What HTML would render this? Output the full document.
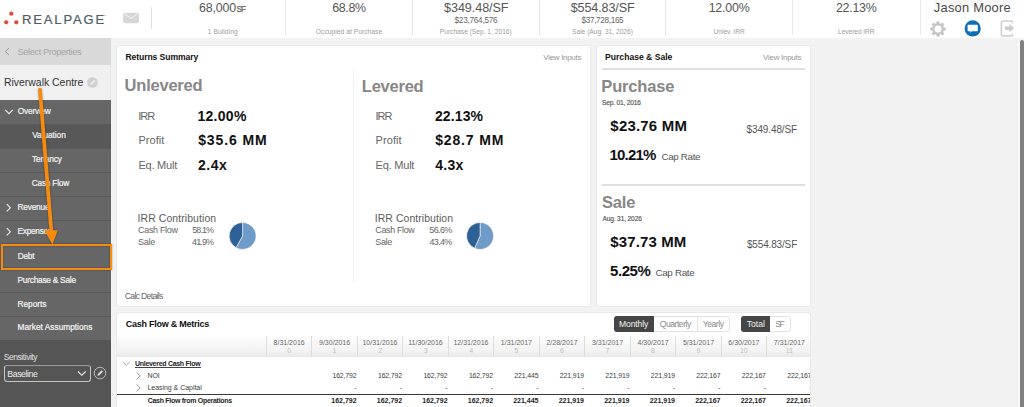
<!DOCTYPE html><html><head><meta charset="utf-8"><style>
html,body{margin:0;padding:0;width:1024px;height:407px;overflow:hidden;background:#f2f2f2;}
body{position:relative;font-family:"Liberation Sans",sans-serif;}
div,span,svg{position:absolute;}
span{white-space:nowrap;line-height:1;}
</style></head><body>
<div style="left:0px;top:0px;width:1024px;height:38px;background:#ffffff;"></div>
<svg style="left:0;top:0" width="30" height="38" viewBox="0 0 30 38"><g fill="#e4493b"><circle cx="11.3" cy="13.7" r="2.15"/><circle cx="6.2" cy="22.3" r="2.15"/><circle cx="16.3" cy="22.3" r="2.15"/></g></svg>
<div style="left:103.6px;top:14.6px;width:2.4px;height:0.8px;background:#c8cbcd;"></div>
<span style="left:21.96px;top:13.00px;font-size:13px;color:#4e5d66;letter-spacing:1.866px;-webkit-text-stroke:0.22px #4e5d66;">REALPAGE</span>
<svg style="left:0;top:0" width="160" height="38" viewBox="0 0 160 38"><rect x="123.2" y="12.7" width="15.8" height="10.6" rx="1.8" fill="#d6d6d6"/><path d="M124.4 13.6 L131.1 18.4 L137.8 13.6" stroke="#f6f6f6" stroke-width="1" fill="none"/></svg>
<div style="left:151px;top:7.3px;width:1px;height:21.7px;background:#e0e0e0;"></div>
<div style="left:285.0px;top:0px;width:1.0px;height:35px;background:#e8e8e8;"></div>
<div style="left:412.2px;top:0px;width:1.0px;height:35px;background:#e8e8e8;"></div>
<div style="left:539.0px;top:0px;width:1.0px;height:35px;background:#e8e8e8;"></div>
<div style="left:665.0px;top:0px;width:1.0px;height:35px;background:#e8e8e8;"></div>
<div style="left:792.0px;top:0px;width:1.0px;height:35px;background:#e8e8e8;"></div>
<div style="left:920.0px;top:0px;width:1.0px;height:35px;background:#e8e8e8;"></div>
<span style="left:199.08px;top:2.00px;font-size:12.4px;color:#555;letter-spacing:-0.158px;">68,000</span>
<span style="left:236.43px;top:5.00px;font-size:8.3px;color:#666;letter-spacing:-0.918px;-webkit-text-stroke:0.25px #666;">SF</span>
<span style="left:207.80px;top:29.00px;font-size:6.7px;color:#9d9d9d;letter-spacing:0.055px;">1 Building</span>
<span style="left:332.18px;top:2.00px;font-size:12.4px;color:#555;letter-spacing:-0.300px;">68.8%</span>
<span style="left:315.80px;top:29.00px;font-size:6.7px;color:#9d9d9d;letter-spacing:0.028px;">Occupied at Purchase</span>
<span style="left:444.07px;top:2.00px;font-size:12.6px;color:#555;letter-spacing:-0.075px;">$349.48/SF</span>
<span style="left:454.52px;top:17.00px;font-size:8.2px;color:#666;letter-spacing:-0.248px;">$23,764,576</span>
<span style="left:439.76px;top:29.00px;font-size:6.7px;color:#9d9d9d;letter-spacing:-0.022px;">Purchase (Sep. 1, 2016)</span>
<span style="left:570.67px;top:2.00px;font-size:12.6px;color:#555;letter-spacing:-0.131px;">$554.83/SF</span>
<span style="left:581.52px;top:17.00px;font-size:8.2px;color:#666;letter-spacing:-0.338px;">$37,728,165</span>
<span style="left:572.00px;top:29.00px;font-size:6.7px;color:#9d9d9d;letter-spacing:-0.019px;">Sale (Aug. 31, 2026)</span>
<span style="left:708.67px;top:2.00px;font-size:12.4px;color:#555;letter-spacing:-0.187px;">12.00%</span>
<span style="left:713.60px;top:29.00px;font-size:6.7px;color:#9d9d9d;letter-spacing:-0.080px;">Unlev. IRR</span>
<span style="left:835.98px;top:2.00px;font-size:12.4px;color:#555;letter-spacing:-0.249px;">22.13%</span>
<span style="left:838.06px;top:29.00px;font-size:6.7px;color:#9d9d9d;letter-spacing:-0.098px;">Levered IRR</span>
<div style="left:934px;top:0px;width:76px;height:7px;background:#f6f6f6;"></div>
<span style="left:933.81px;top:2.00px;font-size:12.9px;color:#4a4a4a;letter-spacing:0.235px;">Jason Moore</span>
<svg style="left:929px;top:19.6px" width="18" height="18" viewBox="-9 -9 18 18"><g fill="#c6c6c6"><rect x="-1.5" y="-7.8" width="3" height="15.6" rx="0.8" transform="rotate(0)"/><rect x="-1.5" y="-7.8" width="3" height="15.6" rx="0.8" transform="rotate(45)"/><rect x="-1.5" y="-7.8" width="3" height="15.6" rx="0.8" transform="rotate(90)"/><rect x="-1.5" y="-7.8" width="3" height="15.6" rx="0.8" transform="rotate(135)"/><circle r="6.1"/></g><circle r="3.5" fill="#fff"/></svg>
<svg style="left:964px;top:20.2px" width="18" height="18" viewBox="0 0 18 18"><circle cx="8.7" cy="8.4" r="8.1" fill="#0e6db3"/>
<path d="M4.3 4.8 h8.8 a0.7 0.7 0 0 1 0.7 0.7 v5 a0.7 0.7 0 0 1 -0.7 0.7 h-5.2 l-1.6 1.6 v-1.6 h-2 a0.7 0.7 0 0 1 -0.7 -0.7 v-5 a0.7 0.7 0 0 1 0.7 -0.7z" fill="#fff"/></svg>
<svg style="left:1000px;top:20.4px" width="16" height="18" viewBox="0 0 16 18"><path d="M12.6 3.2 V2.6 a1.6 1.6 0 0 0 -1.6 -1.6 H3 a1.6 1.6 0 0 0 -1.6 1.6 V14.4 a1.6 1.6 0 0 0 1.6 1.6 H11 a1.6 1.6 0 0 0 1.6 -1.6 V13.8" stroke="#cdcdcd" stroke-width="1.5" fill="none"/>
<path d="M5 6.5 h4.4 v-2.7 l4.7 4.4 l-4.7 4.4 v-2.7 h-4.4z" fill="#cdcdcd"/></svg>
<div style="left:0px;top:38px;width:1024px;height:369px;background:#f2f2f2;"></div>
<div style="left:1018px;top:39px;width:2px;height:368px;background:#f6f6f6;"></div>
<div style="left:1020px;top:39.5px;width:4px;height:367.5px;background:#818181;border-radius:2px 2px 0 0"></div>
<div style="left:0px;top:38px;width:111px;height:27px;background:#d9d9d9;"></div>
<div style="left:0px;top:65px;width:111px;height:35px;background:#f0f0f0;"></div>
<div style="left:110px;top:65px;width:1px;height:35px;background:#e6e6e6;"></div>
<svg style="left:0;top:40px" width="14" height="20" viewBox="0 40 14 20"><path d="M9 48.1 L5.2 51.6 L9 55.1" stroke="#8c8c8c" stroke-width="0.9" fill="none"/></svg>
<span style="left:17.59px;top:48.00px;font-size:9.2px;color:#a4a4a4;letter-spacing:-0.376px;">Select Properties</span>
<span style="left:3.97px;top:78.00px;font-size:10.4px;color:#333;letter-spacing:0.020px;">Riverwalk Centre</span>
<svg style="left:86.9px;top:76.9px" width="11" height="11" viewBox="0 0 11 11"><circle cx="5.5" cy="5.5" r="5.3" fill="#d0d0d0"/><path d="M3.2 7.9 l0.4 -1.6 l3.5 -3.5 l1.2 1.2 l-3.5 3.5z" fill="#eeeeee"/></svg>
<div style="left:0px;top:100px;width:111px;height:240px;background:#666666;"></div>
<div style="left:0px;top:124px;width:111px;height:24px;background:#585858;"></div>
<div style="left:0px;top:124px;width:111px;height:1px;background:#5a5a5a;"></div>
<div style="left:0px;top:148px;width:111px;height:1px;background:#5a5a5a;"></div>
<div style="left:0px;top:172px;width:111px;height:1px;background:#5a5a5a;"></div>
<div style="left:0px;top:196px;width:111px;height:1px;background:#5a5a5a;"></div>
<div style="left:0px;top:220px;width:111px;height:1px;background:#5a5a5a;"></div>
<div style="left:0px;top:244px;width:111px;height:1px;background:#5a5a5a;"></div>
<div style="left:0px;top:268px;width:111px;height:1px;background:#5a5a5a;"></div>
<div style="left:0px;top:292px;width:111px;height:1px;background:#5a5a5a;"></div>
<div style="left:0px;top:316px;width:111px;height:1px;background:#5a5a5a;"></div>
<svg style="left:4px;top:108px" width="10" height="8" viewBox="0 0 10 8"><path d="M1.2 1.8 L5 5.6 L8.8 1.8" stroke="#eee" stroke-width="1.1" fill="none"/></svg>
<span style="left:17.83px;top:107.00px;font-size:8.3px;color:#f4f4f4;letter-spacing:-0.220px;-webkit-text-stroke:0.2px #f4f4f4;">Overview</span>
<span style="left:32.20px;top:131.00px;font-size:8.3px;color:#f4f4f4;letter-spacing:-0.049px;-webkit-text-stroke:0.2px #f4f4f4;">Valuation</span>
<span style="left:32.03px;top:155.00px;font-size:8.3px;color:#f4f4f4;letter-spacing:-0.175px;-webkit-text-stroke:0.2px #f4f4f4;">Tenancy</span>
<span style="left:31.79px;top:179.00px;font-size:8.3px;color:#f4f4f4;letter-spacing:-0.225px;-webkit-text-stroke:0.2px #f4f4f4;">Cash Flow</span>
<svg style="left:5px;top:203px" width="8" height="10" viewBox="0 0 8 10"><path d="M1.8 1.2 L5.4 4.8 L1.8 8.4" stroke="#eee" stroke-width="1.1" fill="none"/></svg>
<span style="left:17.54px;top:203.00px;font-size:8.3px;color:#f4f4f4;letter-spacing:-0.201px;-webkit-text-stroke:0.2px #f4f4f4;">Revenue</span>
<svg style="left:5px;top:227px" width="8" height="10" viewBox="0 0 8 10"><path d="M1.8 1.2 L5.4 4.8 L1.8 8.4" stroke="#eee" stroke-width="1.1" fill="none"/></svg>
<span style="left:17.54px;top:227.00px;font-size:8.3px;color:#f4f4f4;letter-spacing:-0.283px;-webkit-text-stroke:0.2px #f4f4f4;">Expenses</span>
<span style="left:17.64px;top:252.00px;font-size:8.3px;color:#f4f4f4;letter-spacing:-0.183px;-webkit-text-stroke:0.2px #f4f4f4;">Debt</span>
<span style="left:17.54px;top:276.00px;font-size:8.3px;color:#f4f4f4;letter-spacing:-0.238px;-webkit-text-stroke:0.2px #f4f4f4;">Purchase &amp; Sale</span>
<span style="left:17.54px;top:300.00px;font-size:8.3px;color:#f4f4f4;letter-spacing:-0.033px;-webkit-text-stroke:0.2px #f4f4f4;">Reports</span>
<span style="left:17.54px;top:323.00px;font-size:8.3px;color:#f4f4f4;letter-spacing:0.007px;-webkit-text-stroke:0.2px #f4f4f4;">Market Assumptions</span>
<div style="left:0px;top:340px;width:111px;height:67px;background:#555555;"></div>
<span style="left:3.82px;top:353.00px;font-size:8.5px;color:#e0e0e0;letter-spacing:-0.457px;">Sensitivity</span>
<div style="left:4.2px;top:364.7px;width:85.3px;height:15.2px;border:1px solid #c4c4c4;border-top-color:#9a9a9a;border-radius:3px;background:#555"></div>
<span style="left:7.30px;top:370.00px;font-size:8.8px;color:#eeeeee;letter-spacing:-0.456px;">Baseline</span>
<svg style="left:77px;top:370px" width="10" height="7" viewBox="0 0 10 7"><path d="M1 1.5 L4.8 5.3 L8.6 1.5" stroke="#eee" stroke-width="1.1" fill="none"/></svg>
<svg style="left:93px;top:366px" width="14" height="14" viewBox="0 0 14 14"><circle cx="7" cy="7.1" r="5.8" stroke="#c4c4c4" stroke-width="0.9" fill="none"/><path d="M4.4 9.8 l0.5 -1.9 l3.7 -3.7 l1.4 1.4 l-3.7 3.7z" fill="#dedede"/></svg>
<div style="left:116px;top:45px;width:475px;height:262px;background:#fff;border-radius:3px;box-sizing:border-box;border:1px solid #e9e9e9"></div>
<span style="left:125.44px;top:53.00px;font-size:8.6px;color:#111;font-weight:bold;letter-spacing:-0.088px;">Returns Summary</span>
<span style="left:543.30px;top:54.00px;font-size:8px;color:#979797;letter-spacing:-0.312px;">View Inputs</span>
<span style="left:124.61px;top:77.00px;font-size:16.5px;color:#878787;font-weight:bold;letter-spacing:-0.227px;">Unlevered</span>
<span style="left:361.83px;top:78.00px;font-size:16.5px;color:#878787;font-weight:bold;letter-spacing:-0.239px;">Levered</span>
<div style="left:353px;top:69px;width:1px;height:213px;background:#f1f1f1;"></div>
<span style="left:138.31px;top:111.00px;font-size:11px;color:#666;letter-spacing:-0.995px;">IRR</span>
<span style="left:138.42px;top:135.00px;font-size:11px;color:#666;letter-spacing:0.050px;">Profit</span>
<span style="left:138.42px;top:160.00px;font-size:11px;color:#666;letter-spacing:-0.219px;">Eq. Mult</span>
<span style="left:197.46px;top:109.00px;font-size:14px;color:#111;font-weight:bold;letter-spacing:0.292px;">12.00%</span>
<span style="left:198.16px;top:133.00px;font-size:14px;color:#111;font-weight:bold;letter-spacing:0.893px;">$35.6 MM</span>
<span style="left:197.88px;top:158.00px;font-size:14px;color:#111;font-weight:bold;letter-spacing:0.587px;">2.4x</span>
<span style="left:375.51px;top:111.00px;font-size:11px;color:#666;letter-spacing:-0.995px;">IRR</span>
<span style="left:375.62px;top:135.00px;font-size:11px;color:#666;letter-spacing:0.050px;">Profit</span>
<span style="left:375.62px;top:160.00px;font-size:11px;color:#666;letter-spacing:-0.219px;">Eq. Mult</span>
<span style="left:434.98px;top:109.00px;font-size:14px;color:#111;font-weight:bold;letter-spacing:0.108px;">22.13%</span>
<span style="left:435.26px;top:133.00px;font-size:14px;color:#111;font-weight:bold;letter-spacing:0.836px;">$28.7 MM</span>
<span style="left:435.19px;top:158.00px;font-size:14px;color:#111;font-weight:bold;letter-spacing:0.317px;">4.3x</span>
<span style="left:137.56px;top:214.00px;font-size:10.4px;color:#5a5a5a;letter-spacing:0.114px;">IRR Contribution</span>
<span style="left:138.05px;top:226.00px;font-size:9px;color:#666;letter-spacing:-0.334px;">Cash Flow</span>
<span style="left:192.34px;top:226.00px;font-size:9px;color:#666;letter-spacing:-0.960px;">58.1%</span>
<span style="left:138.09px;top:238.00px;font-size:9px;color:#666;letter-spacing:-0.245px;">Sale</span>
<span style="left:192.02px;top:238.00px;font-size:9px;color:#666;letter-spacing:-0.880px;">41.9%</span>
<span style="left:374.76px;top:214.00px;font-size:10.4px;color:#5a5a5a;letter-spacing:0.094px;">IRR Contribution</span>
<span style="left:375.25px;top:226.00px;font-size:9px;color:#666;letter-spacing:-0.372px;">Cash Flow</span>
<span style="left:429.34px;top:226.00px;font-size:9px;color:#666;letter-spacing:-0.635px;">56.6%</span>
<span style="left:375.30px;top:238.00px;font-size:9px;color:#666;letter-spacing:-0.345px;">Sale</span>
<span style="left:429.52px;top:238.00px;font-size:9px;color:#666;letter-spacing:-0.680px;">43.4%</span>
<svg style="left:0;top:0" width="1024" height="407"><path d="M242.6 235.95 L242.6 222.5 A13.45 13.45 0 1 1 236.046 247.695 Z" fill="#6f9bc9" stroke="#fff" stroke-width="0.6"/><path d="M242.6 235.95 L236.046 247.695 A13.45 13.45 0 0 1 242.6 222.5 Z" fill="#2e6195" stroke="#fff" stroke-width="0.6"/></svg>
<svg style="left:0;top:0" width="1024" height="407"><path d="M480.05 235.95 L480.05 222.45 A13.5 13.5 0 1 1 474.611 248.306 Z" fill="#6f9bc9" stroke="#fff" stroke-width="0.6"/><path d="M480.05 235.95 L474.611 248.306 A13.5 13.5 0 0 1 480.05 222.45 Z" fill="#2e6195" stroke="#fff" stroke-width="0.6"/></svg>
<span style="left:124.66px;top:292.00px;font-size:8.7px;color:#666;letter-spacing:-0.689px;">Calc Details</span>
<div style="left:596px;top:45px;width:215px;height:262px;background:#fff;border-radius:3px;box-sizing:border-box;border:1px solid #e9e9e9"></div>
<span style="left:605.04px;top:53.00px;font-size:8.6px;color:#111;font-weight:bold;">Purchase &amp; Sale</span>
<span style="left:763.10px;top:54.00px;font-size:8px;color:#979797;letter-spacing:-0.292px;">View Inputs</span>
<div style="left:602px;top:68px;width:203px;height:2px;background:#e0e0e0;"></div>
<span style="left:601.33px;top:78.00px;font-size:16.5px;color:#878787;font-weight:bold;letter-spacing:-0.169px;">Purchase</span>
<span style="left:602.10px;top:100.00px;font-size:6.6px;color:#555;letter-spacing:-0.185px;-webkit-text-stroke:0.15px #555;">Sep. 01, 2016</span>
<span style="left:610.35px;top:118.00px;font-size:15px;color:#111;font-weight:bold;letter-spacing:0.194px;">$23.76 MM</span>
<span style="left:746.50px;top:125.00px;font-size:10px;color:#555;letter-spacing:-0.117px;">$349.48/SF</span>
<span style="left:609.60px;top:147.00px;font-size:15px;color:#111;font-weight:bold;letter-spacing:-0.830px;">10.21%</span>
<span style="left:661.51px;top:152.00px;font-size:9.8px;color:#555;letter-spacing:-0.332px;">Cap Rate</span>
<div style="left:602px;top:184px;width:203px;height:2px;background:#e0e0e0;"></div>
<span style="left:601.99px;top:194.00px;font-size:16.5px;color:#878787;font-weight:bold;letter-spacing:-0.200px;">Sale</span>
<span style="left:602.40px;top:216.00px;font-size:6.6px;color:#555;letter-spacing:-0.135px;-webkit-text-stroke:0.15px #555;">Aug. 31, 2026</span>
<span style="left:610.35px;top:234.00px;font-size:15px;color:#111;font-weight:bold;letter-spacing:0.119px;">$37.73 MM</span>
<span style="left:746.90px;top:240.00px;font-size:10px;color:#555;letter-spacing:-0.150px;">$554.83/SF</span>
<span style="left:610.05px;top:263.00px;font-size:15px;color:#111;font-weight:bold;letter-spacing:-0.425px;">5.25%</span>
<span style="left:655.41px;top:268.00px;font-size:9.8px;color:#555;letter-spacing:-0.303px;">Cap Rate</span>
<div style="left:116px;top:312px;width:695px;height:120px;background:#fff;border-radius:3px;box-sizing:border-box;border:1px solid #e9e9e9"></div>
<span style="left:125.64px;top:320.00px;font-size:9px;color:#111;font-weight:bold;letter-spacing:-0.247px;">Cash Flow &amp; Metrics</span>
<div style="left:614.2px;top:316px;width:114.1px;height:14.2px;border:1px solid #e2e2e2;border-radius:3px;background:#fff"></div>
<div style="left:614.2px;top:316px;width:39.7px;height:16.2px;background:#454545;border-radius:3px 0 0 3px"></div>
<div style="left:697px;top:317px;width:1px;height:15px;background:#e2e2e2;"></div>
<span style="left:619.11px;top:320.00px;font-size:8.6px;color:#f2f2f2;letter-spacing:-0.169px;">Monthly</span>
<span style="left:659.71px;top:320.00px;font-size:8.6px;color:#8a8a8a;letter-spacing:-0.470px;">Quarterly</span>
<span style="left:702.63px;top:320.00px;font-size:8.6px;color:#8a8a8a;letter-spacing:-0.427px;">Yearly</span>
<div style="left:741.2px;top:316px;width:47.6px;height:14.2px;border:1px solid #e2e2e2;border-radius:3px;background:#fff"></div>
<div style="left:741.2px;top:316px;width:28.8px;height:16.2px;background:#454545;border-radius:3px 0 0 3px"></div>
<span style="left:746.73px;top:320.00px;font-size:8.6px;color:#f2f2f2;letter-spacing:0.011px;">Total</span>
<span style="left:775.31px;top:320.00px;font-size:8.6px;color:#8a8a8a;letter-spacing:-1.577px;">SF</span>
<div style="left:117px;top:336px;width:693px;height:21px;background:linear-gradient(#fcfcfc,#f3f3f3 70%,#e9e9e9)"></div>
<div style="left:266px;top:336px;width:1px;height:21px;background:#dcdcdc;"></div>
<span style="left:273.56px;top:339.00px;font-size:7px;color:#6a6a6a;">8/31/2016</span>
<span style="left:287.20px;top:347.00px;font-size:7px;color:#bdbdbd;">0</span>
<div style="left:311px;top:336px;width:1px;height:21px;background:#dcdcdc;"></div>
<span style="left:319.03px;top:339.00px;font-size:7px;color:#6a6a6a;">9/30/2016</span>
<span style="left:332.57px;top:347.00px;font-size:7px;color:#bdbdbd;">1</span>
<span style="left:332.45px;top:373.00px;font-size:6.9px;color:#3c3c3c;letter-spacing:-0.120px;">162,792</span>
<span style="left:354.33px;top:384.00px;font-size:7px;color:#444;">-</span>
<span style="left:331.30px;top:397.00px;font-size:7.0px;color:#1e1e1e;font-weight:bold;">162,792</span>
<div style="left:357px;top:336px;width:1px;height:21px;background:#dcdcdc;"></div>
<span style="left:362.46px;top:339.00px;font-size:7px;color:#6a6a6a;">10/31/2016</span>
<span style="left:378.14px;top:347.00px;font-size:7px;color:#bdbdbd;">2</span>
<span style="left:377.93px;top:373.00px;font-size:6.9px;color:#3c3c3c;letter-spacing:-0.120px;">162,792</span>
<span style="left:399.81px;top:384.00px;font-size:7px;color:#444;">-</span>
<span style="left:376.78px;top:397.00px;font-size:7.0px;color:#1e1e1e;font-weight:bold;">162,792</span>
<div style="left:402px;top:336px;width:1px;height:21px;background:#dcdcdc;"></div>
<span style="left:408.20px;top:339.00px;font-size:7px;color:#6a6a6a;">11/30/2016</span>
<span style="left:423.65px;top:347.00px;font-size:7px;color:#bdbdbd;">3</span>
<span style="left:423.41px;top:373.00px;font-size:6.9px;color:#3c3c3c;letter-spacing:-0.120px;">162,792</span>
<span style="left:445.29px;top:384.00px;font-size:7px;color:#444;">-</span>
<span style="left:422.26px;top:397.00px;font-size:7.0px;color:#1e1e1e;font-weight:bold;">162,792</span>
<div style="left:448px;top:336px;width:1px;height:21px;background:#dcdcdc;"></div>
<span style="left:453.42px;top:339.00px;font-size:7px;color:#6a6a6a;">12/31/2016</span>
<span style="left:469.13px;top:347.00px;font-size:7px;color:#bdbdbd;">4</span>
<span style="left:468.89px;top:373.00px;font-size:6.9px;color:#3c3c3c;letter-spacing:-0.120px;">162,792</span>
<span style="left:490.77px;top:384.00px;font-size:7px;color:#444;">-</span>
<span style="left:467.74px;top:397.00px;font-size:7.0px;color:#1e1e1e;font-weight:bold;">162,792</span>
<div style="left:493px;top:336px;width:1px;height:21px;background:#dcdcdc;"></div>
<span style="left:500.86px;top:339.00px;font-size:7px;color:#6a6a6a;">1/31/2017</span>
<span style="left:514.60px;top:347.00px;font-size:7px;color:#bdbdbd;">5</span>
<span style="left:514.33px;top:373.00px;font-size:6.9px;color:#3c3c3c;letter-spacing:-0.120px;">221,445</span>
<span style="left:536.25px;top:384.00px;font-size:7px;color:#444;">-</span>
<span style="left:513.15px;top:397.00px;font-size:7.0px;color:#1e1e1e;font-weight:bold;">221,445</span>
<div style="left:539px;top:336px;width:1px;height:21px;background:#dcdcdc;"></div>
<span style="left:546.43px;top:339.00px;font-size:7px;color:#6a6a6a;">2/28/2017</span>
<span style="left:560.04px;top:347.00px;font-size:7px;color:#bdbdbd;">6</span>
<span style="left:559.85px;top:373.00px;font-size:6.9px;color:#3c3c3c;letter-spacing:-0.120px;">221,919</span>
<span style="left:581.73px;top:384.00px;font-size:7px;color:#444;">-</span>
<span style="left:558.70px;top:397.00px;font-size:7.0px;color:#1e1e1e;font-weight:bold;">221,919</span>
<div style="left:584px;top:336px;width:1px;height:21px;background:#dcdcdc;"></div>
<span style="left:591.96px;top:339.00px;font-size:7px;color:#6a6a6a;">3/31/2017</span>
<span style="left:605.54px;top:347.00px;font-size:7px;color:#bdbdbd;">7</span>
<span style="left:605.33px;top:373.00px;font-size:6.9px;color:#3c3c3c;letter-spacing:-0.120px;">221,919</span>
<span style="left:627.21px;top:384.00px;font-size:7px;color:#444;">-</span>
<span style="left:604.18px;top:397.00px;font-size:7.0px;color:#1e1e1e;font-weight:bold;">221,919</span>
<div style="left:630px;top:336px;width:1px;height:21px;background:#dcdcdc;"></div>
<span style="left:637.49px;top:339.00px;font-size:7px;color:#6a6a6a;">4/30/2017</span>
<span style="left:651.04px;top:347.00px;font-size:7px;color:#bdbdbd;">8</span>
<span style="left:650.81px;top:373.00px;font-size:6.9px;color:#3c3c3c;letter-spacing:-0.120px;">221,919</span>
<span style="left:672.69px;top:384.00px;font-size:7px;color:#444;">-</span>
<span style="left:649.66px;top:397.00px;font-size:7.0px;color:#1e1e1e;font-weight:bold;">221,919</span>
<div style="left:675px;top:336px;width:1px;height:21px;background:#dcdcdc;"></div>
<span style="left:682.90px;top:339.00px;font-size:7px;color:#6a6a6a;">5/31/2017</span>
<span style="left:696.52px;top:347.00px;font-size:7px;color:#bdbdbd;">9</span>
<span style="left:696.29px;top:373.00px;font-size:6.9px;color:#3c3c3c;letter-spacing:-0.120px;">222,167</span>
<span style="left:718.17px;top:384.00px;font-size:7px;color:#444;">-</span>
<span style="left:695.17px;top:397.00px;font-size:7.0px;color:#1e1e1e;font-weight:bold;">222,167</span>
<div style="left:721px;top:336px;width:1px;height:21px;background:#dcdcdc;"></div>
<span style="left:728.35px;top:339.00px;font-size:7px;color:#6a6a6a;">6/30/2017</span>
<span style="left:739.91px;top:347.00px;font-size:7px;color:#bdbdbd;">10</span>
<span style="left:741.77px;top:373.00px;font-size:6.9px;color:#3c3c3c;letter-spacing:-0.120px;">222,167</span>
<span style="left:763.65px;top:384.00px;font-size:7px;color:#444;">-</span>
<span style="left:740.65px;top:397.00px;font-size:7.0px;color:#1e1e1e;font-weight:bold;">222,167</span>
<div style="left:766px;top:336px;width:1px;height:21px;background:#dcdcdc;"></div>
<span style="left:773.83px;top:339.00px;font-size:7px;color:#6a6a6a;">7/31/2017</span>
<span style="left:785.69px;top:347.00px;font-size:7px;color:#bdbdbd;">11</span>
<span style="left:787.25px;top:373.00px;font-size:6.9px;color:#3c3c3c;letter-spacing:-0.120px;">222,167</span>
<span style="left:809.13px;top:384.00px;font-size:7px;color:#444;">-</span>
<span style="left:786.13px;top:397.00px;font-size:7.0px;color:#1e1e1e;font-weight:bold;">222,167</span>
<svg style="left:122px;top:360px" width="9" height="7" viewBox="0 0 9 7"><path d="M0.8 1.8 L4.3 5.2 L7.8 1.8" stroke="#999" stroke-width="0.9" fill="none"/></svg>
<span style="left:134.98px;top:360.00px;font-size:7.0px;color:#222;font-weight:bold;letter-spacing:-0.288px;">Unlevered Cash Flow</span>
<div style="left:135.4px;top:366.5px;width:65.4px;height:0.8px;background:#444;"></div>
<svg style="left:135px;top:371px" width="7" height="10" viewBox="0 0 7 10"><path d="M1.6 1.4 L5.2 4.9 L1.6 8.4" stroke="#888" stroke-width="0.9" fill="none"/></svg>
<span style="left:147.44px;top:372.00px;font-size:7.0px;color:#3c3c3c;letter-spacing:-0.085px;">NOI</span>
<svg style="left:135px;top:383px" width="7" height="10" viewBox="0 0 7 10"><path d="M1.6 1.4 L5.2 4.9 L1.6 8.4" stroke="#888" stroke-width="0.9" fill="none"/></svg>
<span style="left:147.44px;top:384.00px;font-size:7.0px;color:#3c3c3c;letter-spacing:-0.035px;">Leasing &amp; Capital</span>
<div style="left:117px;top:394px;width:693px;height:1.2px;background:#3a3a3a;"></div>
<span style="left:147.72px;top:397.00px;font-size:7.0px;color:#1e1e1e;font-weight:bold;letter-spacing:-0.290px;">Cash Flow from Operations</span>
<div style="left:811px;top:313px;width:207px;height:94px;background:#f2f2f2;"></div>
<div style="left:810px;top:313px;width:1px;height:94px;background:#e8e8e8;"></div>
<div style="left:1px;top:244.2px;width:107px;height:21.8px;border:2px solid #f68b0e;box-shadow:0 0 2px rgba(0,0,0,0.35), inset 0 0 2px rgba(0,0,0,0.35)"></div>
<svg style="left:0;top:0;filter:drop-shadow(0 0 0.8px rgba(0,0,0,0.35))" width="1024" height="407"><line x1="39.95" y1="89.8" x2="51.3" y2="231" stroke="#f68b0e" stroke-width="3.7" stroke-linecap="round"/><path d="M44.3 230.2 L57.8 230.2 L52.4 244.4 Z" fill="#f68b0e"/></svg>
</body></html>
